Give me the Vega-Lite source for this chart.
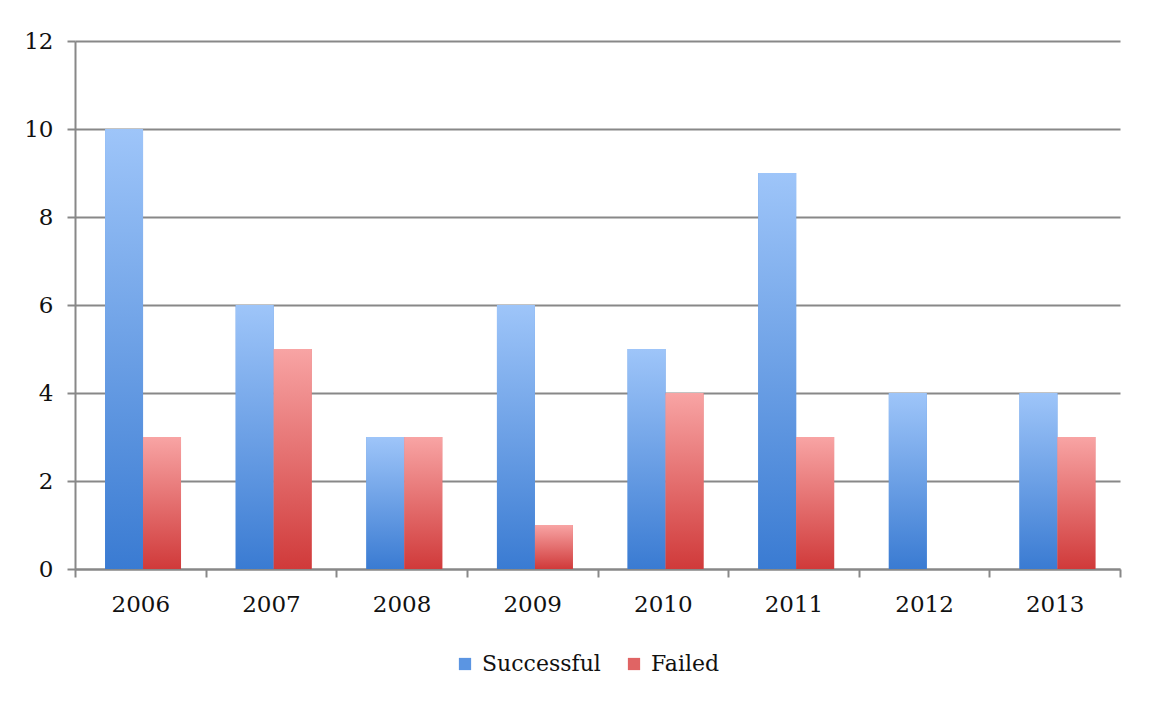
{
  "$schema": "https://vega.github.io/schema/vega-lite/v6.json",
  "width": 1045,
  "height": 528,
  "autosize": {"type": "none"},
  "padding": {"left": 75, "top": 41, "right": 36, "bottom": 140},
  "background": "white",
  "config": {
    "view": {"stroke": null},
    "font": "DejaVu Serif"
  },
  "data": {
    "values": [
      {"year": "2006", "series": "Successful", "value": 10},
      {"year": "2006", "series": "Failed", "value": 3},
      {"year": "2007", "series": "Successful", "value": 6},
      {"year": "2007", "series": "Failed", "value": 5},
      {"year": "2008", "series": "Successful", "value": 3},
      {"year": "2008", "series": "Failed", "value": 3},
      {"year": "2009", "series": "Successful", "value": 6},
      {"year": "2009", "series": "Failed", "value": 1},
      {"year": "2010", "series": "Successful", "value": 5},
      {"year": "2010", "series": "Failed", "value": 4},
      {"year": "2011", "series": "Successful", "value": 9},
      {"year": "2011", "series": "Failed", "value": 3},
      {"year": "2012", "series": "Successful", "value": 4},
      {"year": "2012", "series": "Failed", "value": 0},
      {"year": "2013", "series": "Successful", "value": 4},
      {"year": "2013", "series": "Failed", "value": 3}
    ]
  },
  "encoding": {
    "x": {
      "field": "year",
      "type": "nominal",
      "scale": {"paddingInner": 0, "paddingOuter": 0},
      "axis": {
        "title": null,
        "labelAngle": 0,
        "labelFont": "DejaVu Serif",
        "labelFontSize": 23,
        "labelColor": "#111111",
        "labelPadding": 16,
        "tickBand": "extent",
        "tickSize": 8,
        "tickWidth": 2,
        "tickColor": "#888888",
        "domainColor": "#888888",
        "domainWidth": 2,
        "grid": false
      }
    },
    "xOffset": {
      "field": "series",
      "type": "nominal",
      "sort": ["Successful", "Failed"],
      "scale": {"paddingInner": 0, "paddingOuter": 0.72, "align": 0.55}
    },
    "y": {
      "field": "value",
      "type": "quantitative",
      "scale": {"domain": [0, 12], "nice": false},
      "axis": {
        "title": null,
        "values": [0, 2, 4, 6, 8, 10, 12],
        "labelFont": "DejaVu Serif",
        "labelFontSize": 23,
        "labelColor": "#111111",
        "labelPadding": 14,
        "tickSize": 8,
        "tickWidth": 2,
        "tickColor": "#888888",
        "domainColor": "#888888",
        "domainWidth": 2,
        "grid": true,
        "gridColor": "#888888",
        "gridWidth": 2,
        "gridOpacity": 1
      }
    }
  },
  "layer": [
    {
      "mark": {"type": "bar"},
      "encoding": {
        "color": {
          "field": "series",
          "type": "nominal",
          "sort": ["Successful", "Failed"],
          "scale": {"domain": ["Successful", "Failed"], "range": ["#5B95E2", "#E06464"]},
          "legend": {
            "title": null,
            "orient": "none",
            "direction": "horizontal",
            "legendX": 379,
            "legendY": 612,
            "symbolType": "square",
            "symbolSize": 150,
            "symbolStrokeWidth": 0,
            "labelFont": "DejaVu Serif",
            "labelFontSize": 22,
            "labelColor": "#111111",
            "labelOffset": 6,
            "columnPadding": 22
          }
        }
      }
    },
    {
      "mark": {"type": "bar"},
      "encoding": {
        "color": {
          "condition": {
            "test": "datum.series === 'Successful'",
            "value": {
              "gradient": "linear",
              "x1": 0, "y1": 0, "x2": 0, "y2": 1,
              "stops": [
                {"offset": 0, "color": "#9EC5F9"},
                {"offset": 1, "color": "#3A7BD2"}
              ]
            }
          },
          "value": {
            "gradient": "linear",
            "x1": 0, "y1": 0, "x2": 0, "y2": 1,
            "stops": [
              {"offset": 0, "color": "#F8A4A4"},
              {"offset": 1, "color": "#D03A3A"}
            ]
          }
        }
      }
    }
  ]
}
